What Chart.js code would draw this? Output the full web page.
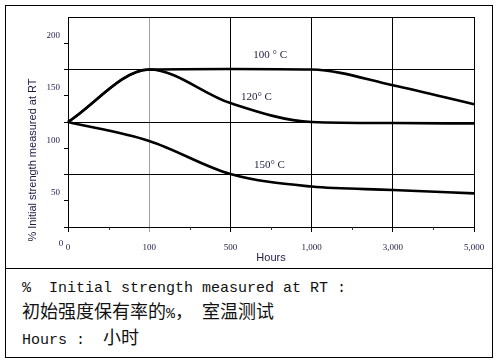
<!DOCTYPE html>
<html>
<head>
<meta charset="utf-8">
<script src="https://cdn.jsdelivr.net/npm/chart.js@4"></script>
<style>
  body { margin: 0; background: #fff; width: 499px; height: 362px; position: relative; overflow: hidden; }
  #chartBox { position: absolute; left: 5px; top: 5px; width: 488px; height: 264px; border: 1px solid #000; box-sizing: border-box; }
  #chart { position: absolute; left: 0; top: 0; }
  #note { position: absolute; left: 5px; top: 268px; width: 488px; height: 90px; border: 1px solid #000; box-sizing: border-box; color: #111; }
  .ln { position: absolute; left: 16px; white-space: pre; }
  .mono { font-family: "Liberation Mono", monospace; font-size: 15px; line-height: 15px; }
  .cjk { font-family: "Noto Sans CJK SC"; font-size: 18px; line-height: 18px; }
</style>
</head>
<body>
<div id="chartBox"></div>
<canvas id="chart" width="499" height="268"></canvas>
<div id="note">
  <div class="ln mono" style="top:12px">%  Initial strength measured at RT :</div>
  <div class="ln cjk" style="top:32px">初始强度保有率的<span class="mono">%</span>，<span class="mono"> </span>室温测试</div>
  <div class="ln mono" style="top:58px">Hours :  <span class="cjk">小时</span></div>
</div>
<script>
// categorias del eje x (espaciadas por igual, no a escala)
var hours = ["0", "100", "500", "1,000", "3,000", "5,000"];
// % de la resistencia inicial medida a temperatura ambiente
var temp100 = [125, 175, 175.5, 175, 160, 142];
var temp120 = [125, 175, 143, 125, 124, 123.5];
var temp150 = [125, 107, 75.5, 63.5, 60.3, 57];
// valores del eje y con etiqueta, y valores con linea de rejilla
var yLabels = [50, 100, 150, 200];
var yGrid = [75, 125, 175, 225];

var navy = "#1c1c44";
var xShift = [7, 0, 0, 3, -10, -14];

function serie(label, data) {
  return {
    label: label,
    data: data,
    borderColor: "#000",
    borderWidth: 2.6,
    pointRadius: 0,
    fill: false,
    cubicInterpolationMode: "monotone",
  };
}

// textos sueltos: etiquetas de curvas, titulo del eje y, marcas menores
var extraText = {
  id: "extraText",
  afterDraw: function (chart) {
    var ctx = chart.ctx;
    var x = chart.scales.x;
    var y = chart.scales.y;
    ctx.save();
    ctx.strokeStyle = "#333";
    ctx.lineWidth = 1;
    for (var i = 0; i < hours.length - 1; i++) {
      var px = Math.round(x.getPixelForValue(i + 0.5)) + 0.5;
      ctx.beginPath();
      ctx.moveTo(px, y.bottom);
      ctx.lineTo(px, y.bottom + 3);
      ctx.stroke();
    }
    ctx.fillStyle = navy;
    ctx.textAlign = "center";
    ctx.textBaseline = "middle";
    ctx.font = '11px "Liberation Serif"';
    ctx.fillText("100 ° C", x.getPixelForValue(2.49), y.getPixelForValue(189));
    ctx.fillText("120° C", x.getPixelForValue(2.32), y.getPixelForValue(149));
    ctx.fillText("150° C", x.getPixelForValue(2.48), y.getPixelForValue(84));
    ctx.font = '9px "Liberation Serif"';
    ctx.fillText("0", 61, 244);
    ctx.translate(33, 160);
    ctx.rotate(-Math.PI / 2);
    ctx.font = '11px "Liberation Sans"';
    ctx.fillText("% Initial strength measured at RT", 0, 0);
    ctx.restore();
  },
};

var ctx = document.getElementById("chart").getContext("2d");
var myChart = new Chart(ctx, {
  type: "line",
  data: {
    labels: hours,
    datasets: [serie("100 ° C", temp100), serie("120° C", temp120), serie("150° C", temp150)],
  },
  plugins: [extraText],
  options: {
    responsive: false,
    animation: false,
    devicePixelRatio: 1,
    layout: { padding: { left: 0, top: 17, right: 25, bottom: 0 } },
    plugins: {
      legend: { display: false },
      tooltip: { enabled: false },
    },
    scales: {
      x: {
        type: "category",
        offset: false,
        afterFit: function (s) {
          s.height = 41;
        },
        border: { color: "#000", width: 1 },
        grid: {
          offset: false,
          color: function (c) {
            return c.index === 1 ? "#a0a0a0" : "#000";
          },
          tickLength: 5,
        },
        ticks: {
          autoSkip: false,
          maxRotation: 0,
          padding: 10,
          color: navy,
          font: { family: "Liberation Serif", size: 9 },
          labelOffset: function (c) {
            return xShift[c.index] || 0;
          },
        },
        title: {
          display: true,
          text: "Hours",
          color: navy,
          font: { family: "Liberation Sans", size: 11 },
          padding: { top: 0, bottom: 3 },
        },
      },
      y: {
        min: 25,
        max: 225,
        afterFit: function (s) {
          s.width = 68;
        },
        border: { color: "#000", width: 1 },
        grid: {
          color: function (c) {
            return c.tick && yGrid.indexOf(c.tick.value) >= 0 ? "#000" : "rgba(0,0,0,0)";
          },
          tickColor: function (c) {
            return c.tick && c.tick.value === 225 ? "rgba(0,0,0,0)" : "#000";
          },
          tickLength: 4,
        },
        ticks: {
          stepSize: 25,
          autoSkip: false,
          padding: 4,
          labelOffset: -8,
          color: navy,
          font: { family: "Liberation Serif", size: 9 },
          callback: function (v) {
            return yLabels.indexOf(v) >= 0 ? v : "";
          },
        },
      },
    },
  },
});
</script>
</body>
</html>
